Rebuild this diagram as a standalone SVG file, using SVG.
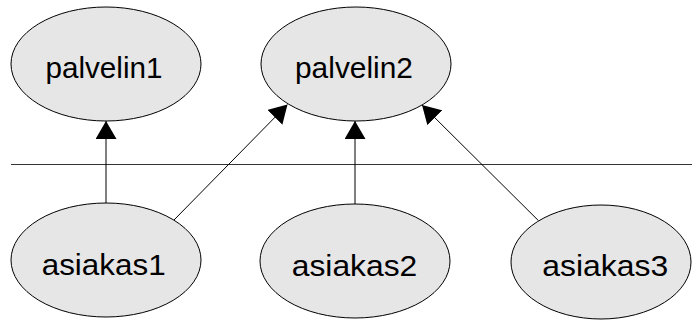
<svg xmlns="http://www.w3.org/2000/svg" width="692" height="320" viewBox="0 0 692 320">
  <style>
    .node ellipse { fill: #e6e6e6; stroke: #000; stroke-width: 1; }
    .node text { font-family: "Liberation Sans", Arial, sans-serif; font-size: 29px; fill: #000; text-anchor: middle; }
    .edge { stroke: #000; stroke-width: 1; fill: none; marker-end: url(#arrow); }
    .divider { stroke: #333; stroke-width: 1; }
  </style>
  <defs>
    <marker id="arrow" viewBox="0 0 18 21" refX="18" refY="10.5" markerWidth="18" markerHeight="21" markerUnits="userSpaceOnUse" orient="auto">
      <path d="M0,0 L18,10.5 L0,21 Z" fill="#000"/>
    </marker>
  </defs>
  <rect width="692" height="320" fill="#fff"/>
  <line class="divider" x1="11" y1="164.5" x2="692" y2="164.5"/>
  <g id="connectors">
    <line class="edge" x1="106" y1="203" x2="106" y2="121"/>
    <line class="edge" x1="173" y1="221" x2="287.5" y2="104.5"/>
    <line class="edge" x1="355" y1="204" x2="355" y2="121"/>
    <line class="edge" x1="538.5" y1="220.7" x2="422" y2="105"/>
  </g>
  <g id="palvelin1" class="node">
    <ellipse cx="106" cy="64" rx="95" ry="57"/>
    <text x="104" y="78" textLength="117" lengthAdjust="spacingAndGlyphs">palvelin1</text>
  </g>
  <g id="palvelin2" class="node">
    <ellipse cx="356" cy="64" rx="95" ry="57"/>
    <text x="354" y="78" textLength="118" lengthAdjust="spacingAndGlyphs">palvelin2</text>
  </g>
  <g id="asiakas1" class="node">
    <ellipse cx="106" cy="260" rx="95" ry="57"/>
    <text x="103.7" y="274.5" textLength="124" lengthAdjust="spacingAndGlyphs">asiakas1</text>
  </g>
  <g id="asiakas2" class="node">
    <ellipse cx="355" cy="261" rx="95" ry="57"/>
    <text x="354.5" y="275.5" textLength="125.5" lengthAdjust="spacingAndGlyphs">asiakas2</text>
  </g>
  <g id="asiakas3" class="node">
    <ellipse cx="601" cy="262" rx="90" ry="57"/>
    <text x="605.3" y="276" textLength="126" lengthAdjust="spacingAndGlyphs">asiakas3</text>
  </g>
</svg>
